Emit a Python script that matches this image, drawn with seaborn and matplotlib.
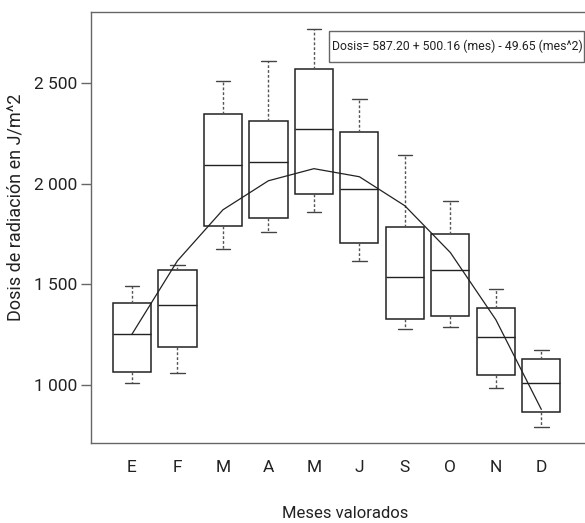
import numpy as np
import pandas as pd
import matplotlib
matplotlib.use("Agg")
import matplotlib.pyplot as plt
from matplotlib.patches import Rectangle
import seaborn as sns

# ---- data ----
months = ["Ene", "Feb", "Mar", "Abr", "May", "Jun", "Sep", "Oct", "Nov", "Dic"]
month_labels = ["E", "F", "M", "A", "M", "J", "S", "O", "N", "D"]
whisker_low = [1010, 1061, 1677, 1760, 1860, 1617, 1281, 1289, 985, 793]
q1 = [1066, 1189, 1791, 1829, 1950, 1705, 1328, 1341, 1050, 866]
median = [1253, 1399, 2094, 2105, 2271, 1973, 1536, 1569, 1238, 1013]
q3 = [1407, 1569, 2345, 2311, 2569, 2258, 1787, 1750, 1384, 1132]
whisker_high = [1494, 1594, 2507, 2607, 2769, 2418, 2140, 1912, 1475, 1175]
curve_vals = [1253, 1617, 1870, 2014, 2074, 2034, 1890, 1658, 1325, 880]
yticks = [1000, 1500, 2000, 2500]
ytick_labels = ["1 000", "1 500", "2 000", "2 500"]
equation = "Dosis= 587.20 + 500.16 (mes) - 49.65 (mes^2)"

rows = []
for m, a, b, c, d, e in zip(months, whisker_low, q1, median, q3, whisker_high):
    for v in (a, b, c, d, e):
        rows.append({"mes": m, "dosis": v})
df = pd.DataFrame(rows)

sns.set_style("ticks")
fam = ["Roboto", "DejaVu Sans"]
plt.rcParams["font.family"] = fam

fig = plt.figure(figsize=(5.85, 5.23), dpi=100)
ax = fig.add_axes([91 / 585, 1 - 443.3 / 523, 1 - 91 / 585, (443.3 - 12) / 523])

box_kws = dict(
    data=df, x="mes", y="dosis", order=months, whis=np.inf, width=0.84,
    color="white", linecolor="#222222", linewidth=1.1, ax=ax,
    whiskerprops=dict(linestyle=(0, (2.0, 1.5)), color="#555555", linewidth=1.0),
    capprops=dict(color="#444444", linewidth=1.0),
    medianprops=dict(color="#222222", linewidth=1.0),
    boxprops=dict(edgecolor="#222222", linewidth=1.1),
)
try:
    sns.boxplot(capwidths=0.32, **box_kws)
except TypeError:
    ax.cla()
    sns.boxplot(**box_kws)

sns.lineplot(x=np.arange(len(curve_vals)), y=curve_vals, ax=ax,
             color="#222222", linewidth=0.9, sort=False)

ax.set_xlim(-0.9, 9.96)
ax.set_ylim(712, 2851)
ax.set_yticks(yticks)
ax.set_yticklabels(ytick_labels, fontsize=12.5, family=fam, color="#222222")
ax.set_xticks(np.arange(len(months)))
ax.set_xticklabels(month_labels, fontsize=12.5, family=fam, color="#222222")
ax.tick_params(axis="y", length=7, width=1, color="#666666", pad=3)
ax.tick_params(axis="x", length=0, pad=12)

ax.set_xlabel("Meses valorados", fontsize=12, family=fam, color="#222222")
ax.xaxis.set_label_coords(0.514, -0.145)
ax.set_ylabel("Dosis de radiación en J/m^2", fontsize=13, family=fam, color="#222222")
ax.yaxis.set_label_coords(-0.135, 0.547)

for s in ["left", "bottom", "top"]:
    ax.spines[s].set_color("#666666")
    ax.spines[s].set_linewidth(1.0)
ax.spines["right"].set_visible(False)

# equation label with frame
ax.add_patch(Rectangle((0.4818, 0.884), 0.5165, 0.0726, transform=ax.transAxes,
                       facecolor="white", edgecolor="#666666", linewidth=1.0, zorder=5,
                       clip_on=False))
ax.text(0.4875, 0.920, equation, transform=ax.transAxes, fontsize=8.8, family=fam,
        color="#222222", va="center", ha="left", zorder=6)

fig.savefig("out.png", dpi=100)
